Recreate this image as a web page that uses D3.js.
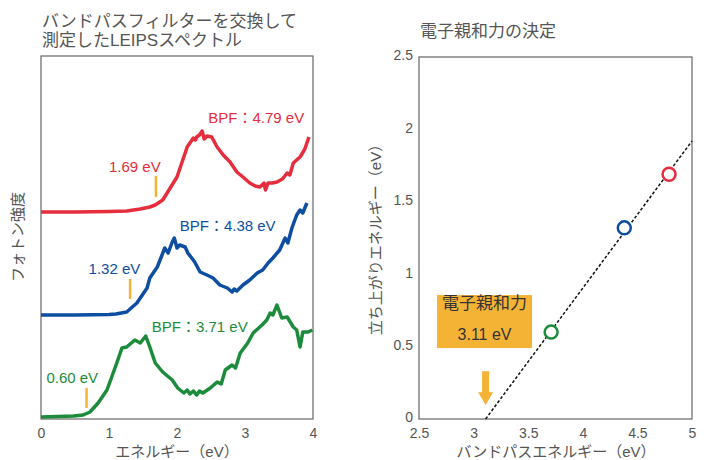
<!DOCTYPE html>
<html>
<head>
<meta charset="utf-8">
<script src="https://cdn.jsdelivr.net/npm/d3@7"></script>
<style>
  body { margin: 0; background: #fff; }
  svg { display: block; font-family: "Liberation Sans", "Noto Sans CJK JP", sans-serif; }
  .tick text { fill: #555; font-size: 14px; }
</style>
</head>
<body>
<svg id="chart" width="718" height="460"></svg>
<script>
// LEIPS spectra, photon energy (eV) vs intensity (a.u., offset per curve)
const spectrumRed = [
  [0.00, 207], [0.50, 207], [1.00, 207.5], [1.26, 208], [1.46, 210], [1.60, 212], [1.68, 214],
  [1.79, 219], [1.90, 231], [2.00, 242], [2.07, 256], [2.15, 272], [2.24, 281], [2.27, 279],
  [2.29, 282], [2.33, 284], [2.37, 288], [2.40, 280], [2.44, 283], [2.51, 282], [2.59, 272],
  [2.68, 264], [2.78, 257], [2.88, 247], [2.97, 242], [3.07, 236], [3.15, 233], [3.22, 232],
  [3.28, 236], [3.30, 229], [3.34, 236], [3.40, 236], [3.47, 237], [3.55, 240], [3.62, 246],
  [3.66, 244], [3.71, 256], [3.81, 262], [3.88, 270], [3.94, 282]
];
const spectrumBlue = [
  [0.00, 104], [0.50, 104], [1.00, 104.5], [1.10, 105], [1.26, 107], [1.41, 116], [1.46, 121],
  [1.56, 131], [1.60, 141], [1.71, 152], [1.78, 164], [1.82, 171], [1.87, 166], [1.93, 177],
  [1.96, 181], [2.00, 171], [2.04, 174], [2.12, 172], [2.16, 166], [2.26, 157], [2.34, 147],
  [2.44, 144], [2.53, 141], [2.63, 134], [2.74, 131], [2.81, 127], [2.84, 130], [2.88, 128],
  [2.97, 134], [3.07, 139], [3.18, 146], [3.26, 149], [3.34, 156], [3.41, 161], [3.51, 169],
  [3.59, 181], [3.63, 176], [3.69, 191], [3.76, 204], [3.81, 209], [3.85, 206], [3.91, 216]
];
const spectrumGreen = [
  [0.00, 2], [0.48, 3], [0.62, 4], [0.72, 7], [0.84, 16], [0.97, 29], [1.04, 42], [1.13, 59],
  [1.19, 71], [1.26, 72], [1.38, 79], [1.46, 76], [1.54, 83], [1.60, 72], [1.68, 56],
  [1.79, 47], [1.93, 39], [2.01, 31], [2.10, 26], [2.15, 29], [2.19, 25], [2.24, 28], [2.29, 24],
  [2.33, 28], [2.38, 26], [2.49, 31], [2.59, 37], [2.65, 35], [2.71, 49], [2.81, 54],
  [2.86, 51], [2.93, 66], [3.04, 76], [3.12, 86], [3.25, 94], [3.32, 99], [3.37, 106],
  [3.41, 104], [3.47, 114], [3.54, 101], [3.62, 102], [3.71, 92], [3.76, 89], [3.81, 72],
  [3.85, 87], [3.93, 87], [3.99, 89]
];

// band-pass filter energy vs onset energy
const bpfEnergy = [3.71, 4.38, 4.79];
const onsetEnergy = [0.60, 1.32, 1.69];
const onsetMarkX = [0.67, 1.31, 1.69];
const seriesColors = ["#1c8c3c", "#0d4ea0", "#e52d3c"];
const fitLine = [[3.11, 0], [5, 1.92]];
const electronAffinity = 3.11;

const leftTicks = [0, 1, 2, 3, 4];
const rightXTicks = [2.5, 3, 3.5, 4, 4.5, 5];
const rightYTicks = [0, 0.5, 1, 1.5, 2, 2.5];

const svg = d3.select("#chart");
const gray = "#555";

// ---------- left panel ----------
const xL = d3.scaleLinear().domain([0, 4]).range([41, 313]);
const yL = d3.scaleLinear().domain([0, 363]).range([419, 56]);

svg.append("text").attr("x", 42).attr("y", 27).attr("fill", gray).attr("font-size", 17)
  .text("バンドパスフィルターを交換して");
svg.append("text").attr("x", 42).attr("y", 46).attr("fill", gray).attr("font-size", 17)
  .text("測定したLEIPSスペクトル");

svg.append("g").attr("transform", "translate(0,419)")
  .call(d3.axisBottom(xL).tickValues(leftTicks).tickSize(0).tickPadding(9).tickFormat(d3.format("d")))
  .call(g => g.select(".domain").remove());

svg.append("rect").attr("x", 41).attr("y", 56).attr("width", 272).attr("height", 363)
  .attr("fill", "none").attr("stroke", "#666").attr("stroke-width", 1.2);

const lineL = d3.line().x(d => xL(d[0])).y(d => yL(d[1]));
const spectra = [spectrumGreen, spectrumBlue, spectrumRed];
svg.append("g").selectAll("path").data(spectra).join("path")
  .attr("d", lineL)
  .attr("fill", "none")
  .attr("stroke", (d, i) => seriesColors[i])
  .attr("stroke-width", 3.5)
  .attr("stroke-linejoin", "round");

// onset markers: [bottom, top] of the orange tick in intensity units
const markRange = [[11, 31], [120, 140], [222, 243]];
svg.append("g").selectAll("line").data(onsetMarkX).join("line")
  .attr("x1", d => xL(d)).attr("x2", d => xL(d))
  .attr("y1", (d, i) => yL(markRange[i][0])).attr("y2", (d, i) => yL(markRange[i][1]))
  .attr("stroke", "#f5b335").attr("stroke-width", 2.5);

const onsetLabelPos = [[0.84, 36], [1.46, 145], [1.76, 247]];
svg.append("g").selectAll("text").data(onsetEnergy).join("text")
  .attr("x", (d, i) => xL(onsetLabelPos[i][0])).attr("y", (d, i) => yL(onsetLabelPos[i][1]))
  .attr("text-anchor", "end").attr("font-size", 15)
  .attr("fill", (d, i) => seriesColors[i])
  .text(d => d.toFixed(2) + " eV");

const bpfLabelPos = [[1.63, 87], [2.04, 188], [2.46, 296]];
svg.append("g").selectAll("text").data(bpfEnergy).join("text")
  .attr("x", (d, i) => xL(bpfLabelPos[i][0])).attr("y", (d, i) => yL(bpfLabelPos[i][1]))
  .attr("font-size", 15)
  .attr("fill", (d, i) => seriesColors[i])
  .text(d => "BPF：" + d.toFixed(2) + " eV");

svg.append("text").attr("x", 177).attr("y", 457).attr("text-anchor", "middle")
  .attr("fill", gray).attr("font-size", 15).text("エネルギー（eV）");
svg.append("text").attr("transform", "translate(23,237) rotate(-90)").attr("text-anchor", "middle")
  .attr("fill", gray).attr("font-size", 15).text("フォトン強度");

// ---------- right panel ----------
const xR = d3.scaleLinear().domain([2.5, 5]).range([419, 692]);
const yR = d3.scaleLinear().domain([0, 2.5]).range([419, 57]);

svg.append("text").attr("x", 420).attr("y", 37).attr("fill", gray).attr("font-size", 17)
  .text("電子親和力の決定");

svg.append("g").attr("transform", "translate(0,419)")
  .call(d3.axisBottom(xR).tickValues(rightXTicks).tickSize(0).tickPadding(9).tickFormat(d => d))
  .call(g => g.select(".domain").remove());
svg.append("g").attr("transform", "translate(419,0)")
  .call(d3.axisLeft(yR).tickValues(rightYTicks).tickSize(0).tickPadding(6).tickFormat(d => d))
  .call(g => g.select(".domain").remove())
  .call(g => g.selectAll(".tick text").attr("dy", "0.2em"));

svg.append("rect").attr("x", 419).attr("y", 57).attr("width", 273).attr("height", 362)
  .attr("fill", "none").attr("stroke", "#666").attr("stroke-width", 1.2);

svg.append("path").datum(fitLine)
  .attr("d", d3.line().x(d => xR(d[0])).y(d => yR(d[1])))
  .attr("stroke", "#111").attr("stroke-width", 1.5).attr("stroke-dasharray", "3,2").attr("fill", "none");

svg.append("g").selectAll("circle").data(bpfEnergy).join("circle")
  .attr("cx", d => xR(d)).attr("cy", (d, i) => yR(onsetEnergy[i]))
  .attr("r", 6.5).attr("fill", "#fff")
  .attr("stroke", (d, i) => seriesColors[i]).attr("stroke-width", 2.5);

// orange box with electron affinity
const boxX = [2.665, 3.535], boxY = [0.49, 0.856];
svg.append("rect")
  .attr("x", xR(boxX[0])).attr("y", yR(boxY[1]))
  .attr("width", xR(boxX[1]) - xR(boxX[0])).attr("height", yR(boxY[0]) - yR(boxY[1]))
  .attr("fill", "#f5b335");
const boxCx = (xR(boxX[0]) + xR(boxX[1])) / 2;
svg.append("text").attr("x", boxCx).attr("y", yR(0.76)).attr("text-anchor", "middle")
  .attr("fill", "#333").attr("font-size", 17).text("電子親和力");
svg.append("text").attr("x", boxCx).attr("y", yR(0.545)).attr("text-anchor", "middle")
  .attr("fill", "#333").attr("font-size", 16).text(electronAffinity.toFixed(2) + " eV");

// arrow pointing at the intercept
const ax = xR(electronAffinity);
const aTop = yR(0.33), aNeck = yR(0.185), aTip = yR(0.097);
svg.append("path")
  .attr("d", `M${ax - 3.5},${aTop}H${ax + 3.5}V${aNeck}H${ax + 7.5}L${ax},${aTip}L${ax - 7.5},${aNeck}H${ax - 3.5}Z`)
  .attr("fill", "#f5b335");

svg.append("text").attr("x", 556).attr("y", 457).attr("text-anchor", "middle")
  .attr("fill", gray).attr("font-size", 15).text("バンドパスエネルギー（eV）");
svg.append("text").attr("transform", "translate(381,236) rotate(-90)").attr("text-anchor", "middle")
  .attr("fill", gray).attr("font-size", 15).text("立ち上がりエネルギー（eV）");
</script>
</body>
</html>
